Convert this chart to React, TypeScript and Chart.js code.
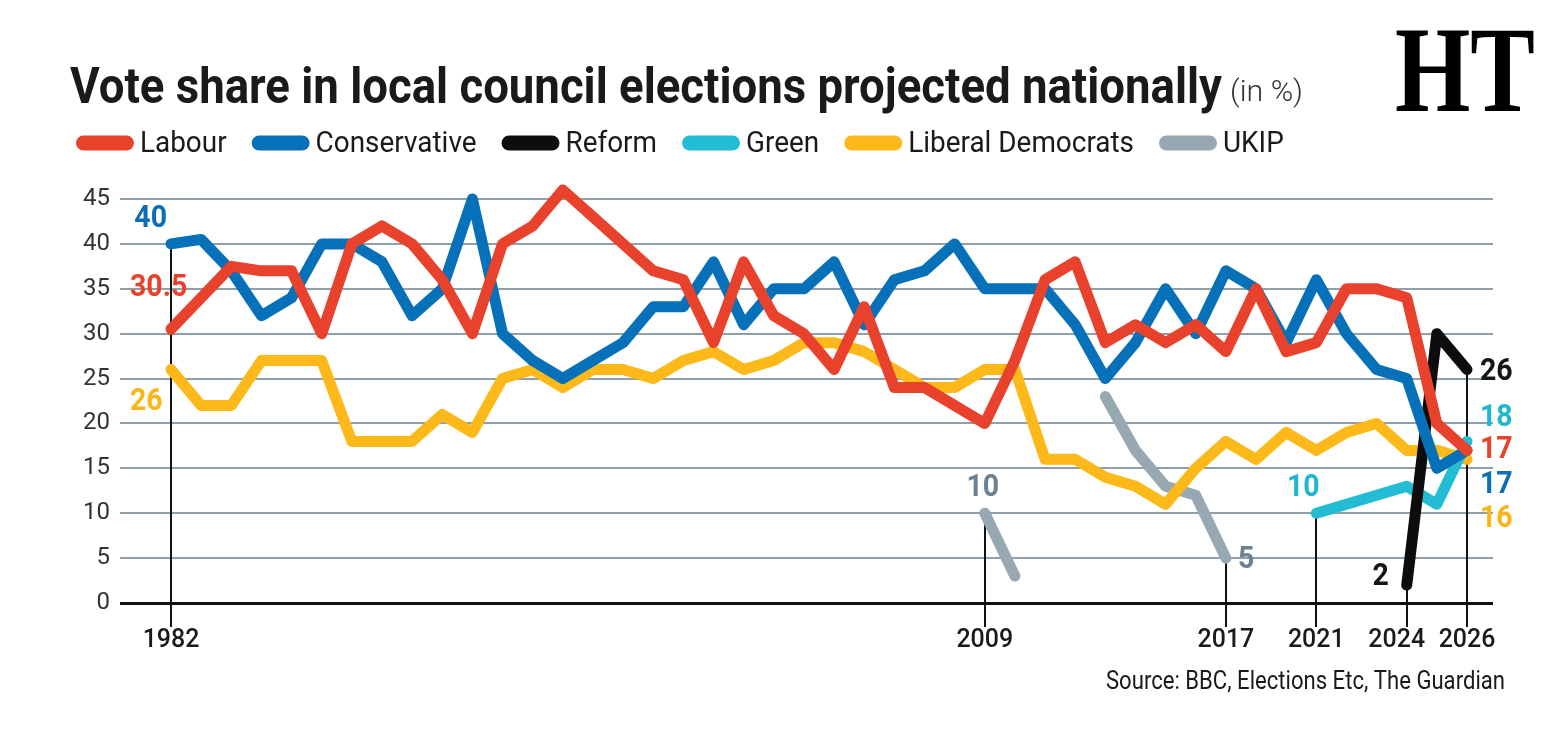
import React, { useEffect, useRef } from 'react';
import { Chart, registerables } from 'chart.js';

Chart.register(...registerables);

// ---------- DATA ----------
const years: number[] = [
  1982, 1983, 1984, 1985, 1986, 1987, 1988, 1989, 1990, 1991,
  1992, 1993, 1994, 1995, 1996, 1997, 1998, 1999, 2000, 2001,
  2002, 2003, 2004, 2005, 2006, 2007, 2008, 2009, 2010, 2011,
  2012, 2013, 2014, 2015, 2016, 2017, 2018, 2019, 2021, 2022,
  2023, 2024, 2025, 2026,
];
const labeledYears: number[] = [1982, 2009, 2017, 2021, 2024, 2026];

const labour: (number | null)[] = [
  30.5, 34, 37.5, 37, 37, 30, 40, 42, 40, 36,
  30, 40, 42, 46, 43, 40, 37, 36, 29, 38,
  32, 30, 26, 33, 24, 24, 22, 20, 27, 36,
  38, 29, 31, 29, 31, 28, 35, 28, 29, 35,
  35, 34, 20, 17,
];
const conservative: (number | null)[] = [
  40, 40.5, 37, 32, 34, 40, 40, 38, 32, 35,
  45, 30, 27, 25, 27, 29, 33, 33, 38, 31,
  35, 35, 38, 31, 36, 37, 40, 35, 35, 35,
  31, 25, 29, 35, 30, 37, 35, 29, 36, 30,
  26, 25, 15, 17,
];
const reform: (number | null)[] = [
  null, null, null, null, null, null, null, null, null, null,
  null, null, null, null, null, null, null, null, null, null,
  null, null, null, null, null, null, null, null, null, null,
  null, null, null, null, null, null, null, null, null, null,
  null, 2, 30, 26,
];
const green: (number | null)[] = [
  null, null, null, null, null, null, null, null, null, null,
  null, null, null, null, null, null, null, null, null, null,
  null, null, null, null, null, null, null, null, null, null,
  null, null, null, null, null, null, null, null, 10, 11,
  12, 13, 11, 18,
];
const libDem: (number | null)[] = [
  26, 22, 22, 27, 27, 27, 18, 18, 18, 21,
  19, 25, 26, 24, 26, 26, 25, 27, 28, 26,
  27, 29, 29, 28, 26, 24, 24, 26, 26, 16,
  16, 14, 13, 11, 15, 18, 16, 19, 17, 19,
  20, 17, 17, 16,
];
const ukip: (number | null)[] = [
  null, null, null, null, null, null, null, null, null, null,
  null, null, null, null, null, null, null, null, null, null,
  null, null, null, null, null, null, null, 10, 3, null,
  null, 23, 17, 13, 12, 5, null, null, null, null,
  null, null, null, null,
];

const seriesNames = ['Labour', 'Conservative', 'Reform', 'Green', 'Liberal Democrats', 'UKIP'];
const seriesValues = [labour, conservative, reform, green, libDem, ukip];
const seriesColors = ['#e8412c', '#0671b8', '#0d0d0d', '#22bcd5', '#fdb819', '#97a8b3'];

const titleText = 'Vote share in local council elections projected nationally';
const unitText = '(in %)';
const sourceText = 'Source: BBC, Elections Etc, The Guardian';

// ---------- helpers ----------
function drawText(
  ctx: CanvasRenderingContext2D,
  text: string,
  x: number,
  y: number,
  font: string,
  color: string,
  align: 'left' | 'center' | 'right',
  opts: { width?: number; scaleX?: number; baseline?: CanvasTextBaseline } = {}
) {
  ctx.save();
  ctx.font = font;
  ctx.fillStyle = color;
  ctx.textBaseline = opts.baseline || 'middle';
  ctx.textAlign = 'left';
  const raw = ctx.measureText(text).width;
  const sx = opts.width ? opts.width / raw : opts.scaleX || 1;
  const w = raw * sx;
  const left = align === 'left' ? x : align === 'center' ? x - w / 2 : x - w;
  ctx.translate(left, y);
  ctx.scale(sx, 1);
  ctx.fillText(text, 0, 0);
  ctx.restore();
  return w;
}

const idxOf = (yr: number) => years.indexOf(yr);

// drop lines: year -> series index whose point anchors the line
const dropAnchors: { year: number; series: number }[] = [
  { year: 1982, series: 1 },
  { year: 2009, series: 5 },
  { year: 2017, series: 5 },
  { year: 2021, series: 3 },
  { year: 2024, series: 2 },
  { year: 2026, series: 2 },
];

// horizontal nudge of a year label away from its tick (to avoid overlap)
const yearLabelShift: Record<number, number> = { 2024: -10 };

// point value labels (text taken from the data)
const pointLabels: { series: number; year: number; dx: number; dy: number; align: 'left' | 'center' | 'right'; color: string }[] = [
  { series: 1, year: 1982, dx: -4, dy: -25, align: 'right', color: '#0a6fb5' },
  { series: 0, year: 1982, dx: -41, dy: -41, align: 'left', color: '#e8412c' },
  { series: 4, year: 1982, dx: -41, dy: 33, align: 'left', color: '#fbb41a' },
  { series: 5, year: 2009, dx: -2, dy: -25, align: 'center', color: '#6c8191' },
  { series: 5, year: 2017, dx: 12, dy: 2, align: 'left', color: '#6c8191' },
  { series: 3, year: 2021, dx: -13, dy: -25, align: 'center', color: '#1fb6cf' },
  { series: 2, year: 2024, dx: -26, dy: -8, align: 'center', color: '#161616' },
  { series: 2, year: 2026, dx: 13, dy: 3, align: 'left', color: '#161616' },
  { series: 3, year: 2026, dx: 13, dy: -23, align: 'left', color: '#1fb6cf' },
  { series: 0, year: 2026, dx: 13, dy: 0, align: 'left', color: '#e8412c' },
  { series: 1, year: 2026, dx: 13, dy: 35, align: 'left', color: '#0a6fb5' },
  { series: 4, year: 2026, dx: 13, dy: 60, align: 'left', color: '#fbb41a' },
];

const decorPlugin = {
  id: 'decor',
  beforeDatasetsDraw(chart: any) {
    const ctx: CanvasRenderingContext2D = chart.ctx;
    const xs = chart.scales.x;
    const ys = chart.scales.y;
    ctx.save();
    ctx.strokeStyle = '#111';
    ctx.lineWidth = 2;
    dropAnchors.forEach((d) => {
      const i = idxOf(d.year);
      const v = seriesValues[d.series][i] as number;
      const px = Math.round(xs.getPixelForValue(i));
      ctx.beginPath();
      ctx.moveTo(px, ys.getPixelForValue(v));
      ctx.lineTo(px, ys.bottom + 24);
      ctx.stroke();
    });
    ctx.restore();

    // year labels on the x axis, placed through the x scale
    xs.ticks.forEach((t: any) => {
      const yr = years[t.value];
      const px = xs.getPixelForValue(t.value) + (yearLabelShift[yr] || 0);
      drawText(ctx, String(yr), px, ys.bottom + 37, '500 26px Roboto', '#1a1a1a', 'center', { scaleX: 0.96 });
    });
  },
  afterDatasetsDraw(chart: any) {
    const ctx: CanvasRenderingContext2D = chart.ctx;
    const xs = chart.scales.x;
    const ys = chart.scales.y;

    pointLabels.forEach((l) => {
      const i = idxOf(l.year);
      const v = seriesValues[l.series][i] as number;
      const px = xs.getPixelForValue(i);
      const py = ys.getPixelForValue(v);
      drawText(ctx, String(v), px + l.dx, py + l.dy, 'bold 31px Roboto', l.color, l.align, { scaleX: 0.92 });
    });
  },
  afterDraw(chart: any) {
    const ctx: CanvasRenderingContext2D = chart.ctx;
    // title
    drawText(ctx, titleText, 70, 103, 'bold 50px Roboto', '#1a1a1a', 'left', { width: 1152, baseline: 'alphabetic' });
    drawText(ctx, unitText, 1230, 101, '300 30px Roboto', '#333', 'left', { width: 73, baseline: 'alphabetic' });

    // legend
    let x = 76;
    const cy = 143;
    seriesNames.forEach((name, k) => {
      ctx.save();
      ctx.strokeStyle = seriesColors[k];
      ctx.lineWidth = 15;
      ctx.lineCap = 'round';
      ctx.beginPath();
      ctx.moveTo(x + 7.5, cy);
      ctx.lineTo(x + 58 - 7.5, cy);
      ctx.stroke();
      ctx.restore();
      const w = drawText(ctx, name, x + 64, cy + 1, '400 30px Roboto', '#1a1a1a', 'left', { scaleX: 0.93 });
      x = x + 64 + w + 25;
    });

    // source
    drawText(ctx, sourceText, 1505, 683, '400 25px Roboto', '#1a1a1a', 'right', { width: 399 });

    // logo
    drawText(ctx, 'HT', 1395, 111, 'bold 122px "Liberation Serif"', '#000', 'left', { width: 140, baseline: 'alphabetic' });
  },
};

export default function App() {
  const ref = useRef<HTMLCanvasElement | null>(null);

  useEffect(() => {
    if (!ref.current) return;
    const tickIdx = labeledYears.map((y) => idxOf(y));
    const chart = new Chart(ref.current, {
      type: 'line',
      data: {
        datasets: seriesNames.map((name, k) => ({
          label: name,
          data: seriesValues[k].map((v, i) => ({ x: i, y: v })),
          borderColor: seriesColors[k],
          backgroundColor: seriesColors[k],
          borderWidth: 11,
          pointRadius: 0,
          spanGaps: false,
          clip: false as any,
          tension: 0,
          borderCapStyle: 'round',
          borderJoinStyle: 'round',
        })),
      },
      options: {
        responsive: false,
        animation: false,
        devicePixelRatio: 1,
        layout: { padding: { top: 199, right: 65, left: 0, bottom: 0 } },
        plugins: {
          legend: { display: false },
          title: { display: false },
          tooltip: { enabled: false },
        },
        scales: {
          x: {
            type: 'linear',
            min: -51 / (1296 / 43),
            max: 43 + 26 / (1296 / 43),
            grid: { display: false },
            border: { display: false },
            afterBuildTicks: (s: any) => {
              s.ticks = tickIdx.map((v) => ({ value: v }));
            },
            afterFit: (s: any) => {
              s.height = 153;
            },
            ticks: { display: false, autoSkip: false },
          },
          y: {
            min: 0,
            max: 45,
            border: { display: false },
            afterFit: (s: any) => {
              s.width = 120;
            },
            grid: {
              drawTicks: false,
              color: (c: any) => (c.tick && c.tick.value === 0 ? '#111' : '#8fa0aa'),
              lineWidth: (c: any) => (c.tick && c.tick.value === 0 ? 3 : 2),
            },
            ticks: {
              stepSize: 5,
              padding: 10,
              color: '#333',
              font: { family: 'Roboto', size: 24, weight: '400' as any },
            },
          },
        },
      },
      plugins: [decorPlugin],
    });
    return () => chart.destroy();
  }, []);

  return (
    <div style={{ position: 'absolute', left: 0, top: 0, width: 1558, height: 756, background: '#fff' }}>
      <canvas ref={ref} width={1558} height={756} style={{ display: 'block', width: 1558, height: 756 }} />
    </div>
  );
}
